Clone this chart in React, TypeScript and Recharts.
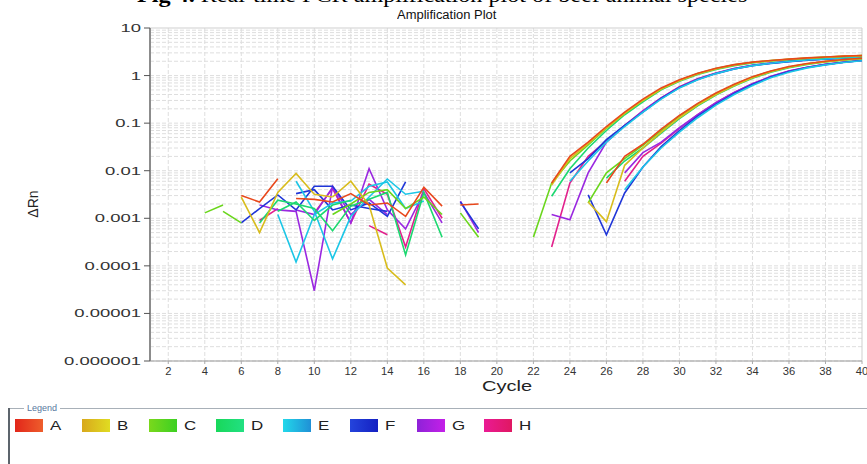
import React from 'react';
import { LineChart, Line, XAxis, YAxis, CartesianGrid, ReferenceLine } from 'recharts';

const _ = null;

// Cycle numbers (x categories)
const cycles = [1, 2, 3, 4, 5, 6, 7, 8, 9, 10, 11, 12, 13, 14, 15, 16, 17, 18, 19, 20,
  21, 22, 23, 24, 25, 26, 27, 28, 29, 30, 31, 32, 33, 34, 35, 36, 37, 38, 39, 40];

// Delta Rn per cycle, two traces per sample (null = not plotted on log scale)
const A1 = [_, _, _, _, _, 0.003, 0.0022, 0.0068, _, _,
  _, _, _, _, _, _, _, 0.0019, 0.002, _,
  _, _, 0.0055, 0.02, 0.04, 0.085, 0.17, 0.32, 0.55, 0.82,
  1.12, 1.42, 1.7, 1.92, 2.08, 2.22, 2.35, 2.46, 2.56, 2.65];
const A2 = [_, _, _, _, _, _, _, _, 0.0026, 0.0025,
  0.0022, 0.0033, 0.0019, 0.0021, 0.0011, 0.0045, 0.0018, _, _, _,
  _, _, _, _, _, 0.0055, 0.02, 0.036, 0.075, 0.145,
  0.26, 0.43, 0.66, 0.95, 1.25, 1.55, 1.8, 2.0, 2.17, 2.32];
const B1 = [_, _, _, _, _, 0.0028, 0.0005, 0.0035, 0.0088, 0.0032,
  0.0028, _, _, _, _, _, _, _, _, _,
  _, _, 0.005, 0.018, 0.037, 0.08, 0.16, 0.3, 0.52, 0.78,
  1.08, 1.38, 1.65, 1.88, 2.05, 2.2, 2.32, 2.43, 2.53, 2.62];
const B2 = [_, _, _, _, _, _, _, _, _, _,
  0.0028, 0.006, 0.0019, 0.00009, 0.00004, _, _, _, _, _,
  _, _, _, _, 0.0022, 0.00085, 0.013, 0.03, 0.065, 0.13,
  0.24, 0.4, 0.62, 0.9, 1.2, 1.5, 1.75, 1.96, 2.13, 2.28];
const C1 = [_, _, _, 0.0013, 0.0019, _, _, _, _, _,
  _, _, _, _, _, _, _, 0.0013, 0.0004, _,
  _, 0.0004, 0.0055, 0.016, 0.035, 0.078, 0.16, 0.3, 0.52, 0.8,
  1.1, 1.4, 1.68, 1.9, 2.06, 2.2, 2.33, 2.44, 2.54, 2.62];
const C2 = [_, _, _, _, 0.0014, 0.0008, _, _, _, _,
  0.0012, 0.002, 0.0035, 0.004, 0.0016, 0.0028, 0.0012, _, _, _,
  _, _, _, _, 0.0021, 0.009, 0.018, 0.034, 0.07, 0.14,
  0.25, 0.42, 0.64, 0.93, 1.23, 1.52, 1.77, 1.98, 2.15, 2.3];
const D1 = [_, _, _, _, _, _, 0.0008, 0.0024, 0.002, 0.0016,
  0.00055, 0.0018, 0.0025, 0.0035, 0.00017, 0.0035, 0.0004, _, _, _,
  _, _, 0.0029, 0.011, 0.03, 0.07, 0.15, 0.28, 0.5, 0.76,
  1.05, 1.35, 1.62, 1.85, 2.02, 2.16, 2.28, 2.4, 2.5, 2.58];
const D2 = [_, _, _, _, _, _, _, 0.0014, 0.0022, 0.0009,
  0.0019, 0.0024, _, _, _, _, _, _, _, _,
  _, _, _, _, _, 0.007, 0.016, 0.03, 0.062, 0.125,
  0.23, 0.39, 0.6, 0.88, 1.18, 1.47, 1.72, 1.93, 2.1, 2.25];
const E1 = [_, _, _, _, _, _, _, 0.0012, 0.00012, 0.0012,
  0.0021, 0.0023, 0.0047, 0.0058, 0.0016, 0.0023, _, _, _, _,
  _, _, _, 0.006, 0.016, 0.04, 0.085, 0.17, 0.32, 0.55,
  0.82, 1.1, 1.38, 1.62, 1.82, 1.98, 2.12, 2.24, 2.35, 2.45];
const E2 = [_, _, _, _, _, _, _, _, 0.006, 0.0014,
  0.00014, 0.0011, 0.0028, 0.0067, 0.0032, 0.0037, _, _, _, _,
  _, _, _, _, _, _, 0.004, 0.012, 0.03, 0.065,
  0.13, 0.24, 0.4, 0.62, 0.9, 1.18, 1.45, 1.68, 1.88, 2.05];
const F1 = [_, _, _, _, _, 0.0008, 0.0016, 0.0031, 0.0015, 0.0047,
  0.0047, 0.0015, 0.0021, 0.0011, 0.0058, _, _, _, _, _,
  _, _, _, 0.009, 0.018, 0.045, 0.09, 0.17, 0.33, 0.56,
  0.83, 1.1, 1.38, 1.62, 1.8, 1.96, 2.1, 2.22, 2.33, 2.43];
const F2 = [_, _, _, _, _, _, _, _, 0.0033, 0.004,
  0.0015, 0.0019, 0.0016, 0.0014, _, _, _, 0.0022, 0.0006, _,
  _, _, _, _, 0.0031, 0.00045, 0.0034, 0.012, 0.032, 0.07,
  0.14, 0.25, 0.42, 0.65, 0.93, 1.22, 1.48, 1.7, 1.9, 2.07];
const G1 = [_, _, _, _, _, _, 0.0019, 0.0015, 0.0014, 0.00003,
  0.0047, 0.0012, 0.0025, 0.0012, _, _, _, 0.0023, 0.0005, _,
  _, _, 0.0012, 0.00093, 0.009, 0.04, 0.088, 0.18, 0.34, 0.57,
  0.85, 1.12, 1.4, 1.64, 1.83, 1.99, 2.12, 2.24, 2.35, 2.45];
const G2 = [_, _, _, _, _, _, _, _, 0.0015, 0.0012,
  0.0045, 0.0008, 0.011, 0.0015, 0.0006, 0.0035, 0.0008, _, _, _,
  _, _, _, _, _, _, 0.009, 0.024, 0.04, 0.08,
  0.15, 0.27, 0.44, 0.67, 0.95, 1.24, 1.5, 1.72, 1.91, 2.08];
const H1 = [_, _, _, _, _, _, 0.0009, 0.0016, _, _,
  _, _, 0.0007, 0.00045, _, _, _, _, _, _,
  _, _, 0.00025, 0.0055, 0.02, 0.042, 0.09, 0.18, 0.34, 0.58,
  0.86, 1.13, 1.41, 1.65, 1.84, 2.0, 2.13, 2.25, 2.36, 2.46];
const H2 = [_, _, _, _, _, _, _, _, _, 0.0013,
  0.0042, 0.0008, 0.0052, 0.0032, 0.00025, 0.0042, 0.001, _, _, _,
  _, _, _, _, _, _, 0.006, 0.02, 0.038, 0.078,
  0.15, 0.27, 0.44, 0.67, 0.95, 1.24, 1.5, 1.72, 1.91, 2.08];

const sampleNames = ['A', 'B', 'C', 'D', 'E', 'F', 'G', 'H'];
const sampleColors = ['#e8481c', '#d8bc1c', '#6ad61c', '#1cd870', '#1cc6e6', '#2036d8', '#9a28e0', '#e2208c'];
const swatchGradients = [
  ['#e2261a', '#ee5e2c'], ['#d8a81c', '#e0dc22'], ['#7ad81c', '#3cd022'], ['#18d85a', '#22e082'],
  ['#22d8ea', '#2090d6'], ['#2444dc', '#1420c2'], ['#8e22d8', '#c420e8'], ['#ea1a94', '#e01862'],
];
const seriesBySample = [[A1, A2], [B1, B2], [C1, C2], [D1, D2], [E1, E2], [F1, F2], [G1, G2], [H1, H2]];

const yTicks = [0.000001, 0.00001, 0.0001, 0.001, 0.01, 0.1, 1, 10];
const yTickLabels = ['0.000001', '0.00001', '0.0001', '0.001', '0.01', '0.1', '1', '10'];
const xTicks = [2, 4, 6, 8, 10, 12, 14, 16, 18, 20, 22, 24, 26, 28, 30, 32, 34, 36, 38, 40];

const minorY: number[] = [];
[0.000001, 0.00001, 0.0001, 0.001, 0.01, 0.1, 1].forEach((d) => {
  [1, 2, 3, 4, 5, 6, 7, 8, 9].forEach((k) => minorY.push(d * k));
});
const gridX = [2, 4, 6, 8, 10, 12, 14, 16, 18, 20, 22, 24, 26, 28, 30, 32, 34, 36, 38];

const data = cycles.map((c, i) => {
  const row: Record<string, number | null> = { cycle: c };
  seriesBySample.forEach((pair, s) => {
    pair.forEach((arr, r) => {
      row[`${sampleNames[s]}${r + 1}`] = arr[i];
    });
  });
  return row;
});

const YTick = (props: any) => {
  const { x, y, payload } = props;
  const idx = yTicks.indexOf(payload.value);
  return (
    <text transform={`translate(${x},${y}) scale(1.68,1)`} x={0} y={0} dy={4} textAnchor="end"
      fontSize={11} fontFamily="Arial, Liberation Sans" fill="#333">
      {idx >= 0 ? yTickLabels[idx] : String(payload.value)}
    </text>
  );
};

const XTick = (props: any) => {
  const { x, y, payload } = props;
  return (
    <text transform={`translate(${x},${y}) scale(1.12,1)`} x={0} y={0} dy={9} textAnchor="middle"
      fontSize={10} fontFamily="Arial, Liberation Sans" fill="#333">
      {payload.value}
    </text>
  );
};

const drawOrder = [7, 6, 5, 4, 3, 2, 1, 0];

export default function App() {
  return (
    <div style={{ position: 'absolute', left: 0, top: 0, width: 867, height: 464, background: '#fff', overflow: 'hidden', fontFamily: 'Arial, Liberation Sans, sans-serif' }}>
      <div style={{ position: 'absolute', left: 137, top: -15, fontFamily: 'Liberation Serif, Times New Roman, serif', fontSize: 21, lineHeight: '21px', color: '#000', whiteSpace: 'nowrap', transform: 'scaleX(1.15)', transformOrigin: 'left top' }}>
        <b>Fig 4.</b> Real-time PCR amplification plot of beef animal species
      </div>
      <div style={{ position: 'absolute', left: 397, top: 9, fontSize: 12, lineHeight: '12px', color: '#111', whiteSpace: 'nowrap', transform: 'scaleX(1.08)', transformOrigin: 'left top' }}>
        Amplification Plot
      </div>
      <div style={{ position: 'absolute', left: 0, top: 0 }}>
        <LineChart width={867} height={400} data={data} margin={{ top: 28, right: 5, bottom: 9, left: 0 }}>
          <CartesianGrid stroke="#dedede" strokeDasharray="4 2" horizontalValues={minorY} verticalValues={gridX} />
          <XAxis dataKey="cycle" type="number" domain={[1, 40]} ticks={xTicks} interval={0} height={30}
            tick={<XTick />} tickSize={3} tickMargin={2} stroke="#999" tickLine={{ stroke: '#aaa' }} allowDataOverflow />
          <YAxis type="number" scale="log" domain={[0.000001, 10]} ticks={yTicks} interval={0} width={150}
            tick={<YTick />} tickSize={6} tickMargin={3} allowDataOverflow
            axisLine={{ stroke: '#8c8c8c', strokeWidth: 2 }} tickLine={{ stroke: '#555' }} />
          <ReferenceLine y={10} stroke="#cfcfcf" />
          <ReferenceLine x={40} stroke="#cfcfcf" />
          {drawOrder.map((s) =>
            [1, 2].map((r) => (
              <Line key={`${sampleNames[s]}${r}`} dataKey={`${sampleNames[s]}${r}`} type="linear"
                stroke={sampleColors[s]} strokeWidth={1.6} dot={false} connectNulls={false}
                isAnimationActive={false} />
            ))
          )}
        </LineChart>
      </div>
      <div style={{ position: 'absolute', left: 457, top: 379, width: 100, textAlign: 'center', fontSize: 14, lineHeight: '14px', color: '#222', transform: 'scaleX(1.43)' }}>
        Cycle
      </div>
      <div style={{ position: 'absolute', left: 18, top: 197, width: 30, textAlign: 'center', fontSize: 14, lineHeight: '14px', color: '#222', transform: 'rotate(-90deg)' }}>
        ΔRn
      </div>
      {/* Legend frame */}
      <div style={{ position: 'absolute', left: 8, top: 408, width: 859, height: 1, background: '#a8b0b8' }} />
      <div style={{ position: 'absolute', left: 8, top: 408, width: 2, height: 56, background: '#5c646c' }} />
      <div style={{ position: 'absolute', left: 24, top: 403, padding: '0 3px', background: '#fff', fontSize: 9, lineHeight: '10px', color: '#5878a0' }}>
        Legend
      </div>
      <div style={{ position: 'absolute', left: 15, top: 419, display: 'flex' }}>
        {sampleNames.map((n, i) => (
          <div key={n} style={{ width: 67, display: 'flex', alignItems: 'center' }}>
            <div style={{ width: 28, height: 13, background: `linear-gradient(90deg, ${swatchGradients[i][0]}, ${swatchGradients[i][1]})` }} />
            <span style={{ marginLeft: 7, fontSize: 13, lineHeight: '13px', color: '#222', display: 'inline-block', transform: 'scaleX(1.3)', transformOrigin: 'left center' }}>{n}</span>
          </div>
        ))}
      </div>
    </div>
  );
}
